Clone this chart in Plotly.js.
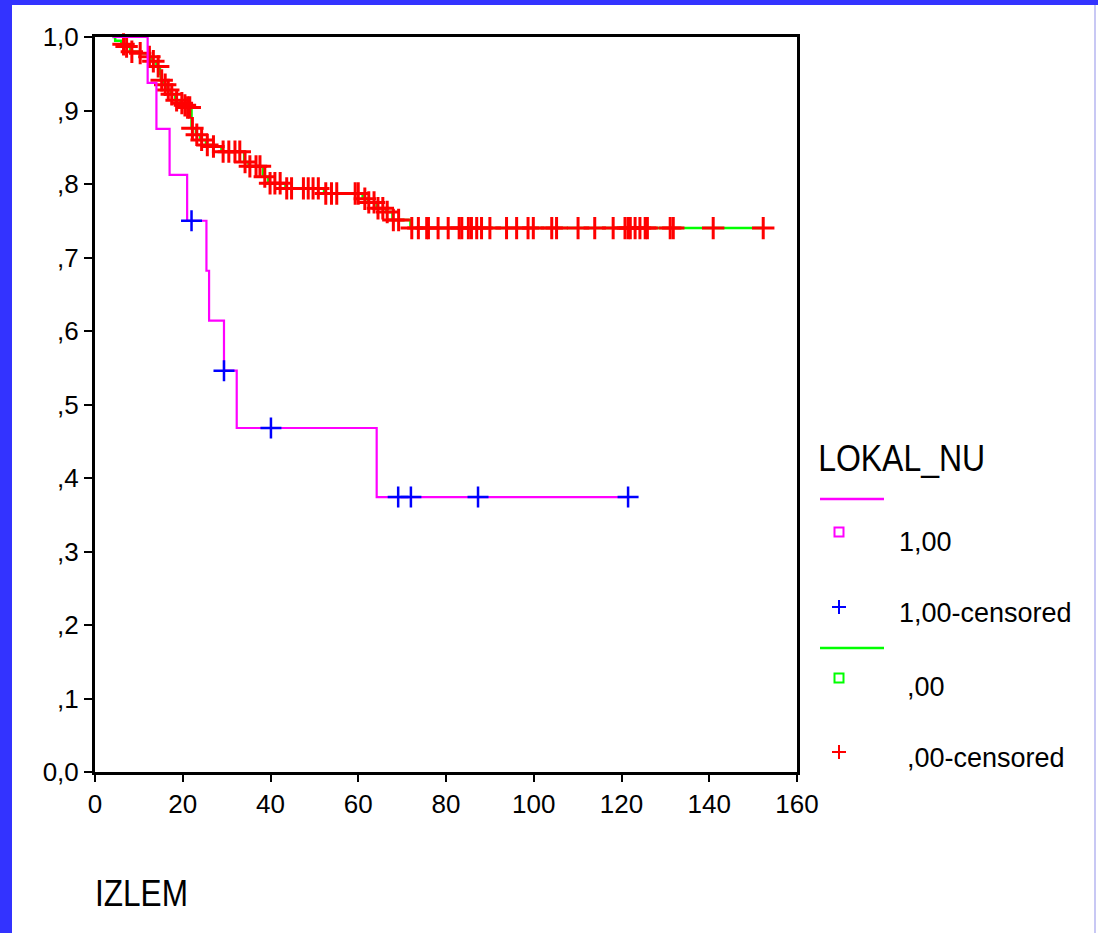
<!DOCTYPE html>
<html>
<head>
<meta charset="utf-8">
<script src="https://cdn.plot.ly/plotly-3.0.1.min.js"></script>
<style>
  html, body { margin: 0; padding: 0; background: #ffffff; }
  #chart { width: 1098px; height: 933px; }
</style>
</head>
<body>
<div id="chart"></div>
<script>
// ---------- DATA ----------
// Group LOKAL_NU = 1,00 : Kaplan-Meier step curve
const g1StepTime = [4.0, 12.0, 14.0, 17.0, 21.0, 25.4, 26.0, 29.4, 32.3, 64.2, 121.5];
const g1StepSurv = [1.0, 0.9375, 0.875, 0.8125, 0.75, 0.682, 0.614, 0.546, 0.468, 0.374, 0.374];
// Group 1,00 censored cases
const g1CensTime = [22.0, 29.4, 40.1, 69.1, 72.0, 87.3, 121.5];
const g1CensSurv = [0.75, 0.546, 0.468, 0.374, 0.374, 0.374, 0.374];

// Group LOKAL_NU = ,00 : Kaplan-Meier step curve
const g0StepTime = [4.0, 4.6, 6.0, 7.0, 8.0, 10.0, 12.0, 13.0, 14.0, 14.8, 15.0, 15.8, 16.5, 17.3, 18.3,
                    19.5, 20.3, 21.0, 22.0, 23.0, 24.0, 25.3, 26.8, 28.8, 34.0, 35.0, 38.3, 39.5, 43.4,
                    52.2, 61.0, 62.2, 64.2, 66.4, 67.8, 71.9, 152.3];
const g0StepSurv = [1.0, 0.995, 0.990, 0.987, 0.980, 0.978, 0.973, 0.967, 0.960, 0.950, 0.941, 0.935, 0.928, 0.922, 0.914,
                    0.910, 0.907, 0.904, 0.876, 0.867, 0.860, 0.853, 0.851, 0.844, 0.830, 0.824, 0.810, 0.801, 0.794,
                    0.787, 0.780, 0.775, 0.767, 0.762, 0.751, 0.740, 0.740];
// Group ,00 censored cases
const g0CensTime = [6.5, 7.2, 8.4, 10.3, 12.4, 13.3, 14.4, 15.2, 16.0, 16.7, 17.5, 18.6, 19.8, 20.5, 21.1, 21.6,
                    22.2, 23.2, 24.3, 25.6, 27.0, 29.2, 30.5, 31.9, 33.0, 34.2, 35.3, 36.7, 37.6, 38.7,
                    39.9, 41.0, 42.2, 43.7, 44.8, 47.5, 48.6, 49.7, 50.9, 52.6, 53.9, 55.1, 59.3, 60.0,
                    61.5, 62.4, 63.6, 64.5, 65.6, 66.6, 68.0, 69.2,
                    72.2, 73.7, 75.6, 76.0, 78.2, 80.5, 83.0, 83.6, 85.1, 85.8, 87.0, 88.1, 90.0, 93.8,
                    96.1, 98.7, 99.9, 104.1, 105.2, 110.1, 113.9, 118.1, 120.8, 121.5, 122.0, 123.1,
                    124.2, 125.4, 125.9, 131.1, 131.8, 140.9, 152.3];
const g0CensSurv = [0.990, 0.987, 0.980, 0.978, 0.973, 0.967, 0.960, 0.941, 0.935, 0.928, 0.922, 0.914, 0.910, 0.907, 0.904, 0.904,
                    0.876, 0.867, 0.860, 0.853, 0.851, 0.844, 0.844, 0.844, 0.844, 0.830, 0.824, 0.824, 0.824, 0.810,
                    0.801, 0.801, 0.801, 0.794, 0.794, 0.794, 0.794, 0.794, 0.794, 0.787, 0.787, 0.787, 0.787, 0.787,
                    0.780, 0.775, 0.775, 0.767, 0.767, 0.762, 0.751, 0.751,
                    0.740, 0.740, 0.740, 0.740, 0.740, 0.740, 0.740, 0.740, 0.740, 0.740, 0.740, 0.740, 0.740, 0.740,
                    0.740, 0.740, 0.740, 0.740, 0.740, 0.740, 0.740, 0.740, 0.740, 0.740, 0.740, 0.740,
                    0.740, 0.740, 0.740, 0.740, 0.740, 0.740, 0.740];

// Axis ticks
const xTickVals = [0, 20, 40, 60, 80, 100, 120, 140, 160];
const yTickVals = [0, 0.1, 0.2, 0.3, 0.4, 0.5, 0.6, 0.7, 0.8, 0.9, 1.0];
const yTickText = ['0,0', ',1', ',2', ',3', ',4', ',5', ',6', ',7', ',8', ',9', '1,0'];

// Labels
const xTitle = 'IZLEM';
const legendTitle = 'LOKAL_NU';
const legendLabels = ['1,00', '1,00-censored', ',00', ',00-censored'];

// ---------- STYLE / LAYOUT ----------
const W = 1098, H = 933;
const L = 95, R = 797, T = 37, B = 772;
const px2x = p => (p - L) / (R - L);
const py2y = p => (B - p) / (B - T);

const MAG = '#ff00ff', GRN = '#00ff00', RED = '#ff0000', BLU = '#0000ff';
const FONT = 'Liberation Sans, Arial, Helvetica, sans-serif';

const traces = [
  { x: g0StepTime, y: g0StepSurv, type: 'scatter', mode: 'lines',
    line: { color: GRN, width: 2.5, shape: 'hv' }, hoverinfo: 'skip', cliponaxis: false },
  { x: g0CensTime, y: g0CensSurv, type: 'scatter', mode: 'markers',
    marker: { symbol: 'cross-thin-open', size: 16, color: RED, line: { color: RED, width: 3 } },
    hoverinfo: 'skip', cliponaxis: false },
  { x: g1StepTime, y: g1StepSurv, type: 'scatter', mode: 'lines',
    line: { color: MAG, width: 2.2, shape: 'hv' }, hoverinfo: 'skip', cliponaxis: false },
  { x: g1CensTime, y: g1CensSurv, type: 'scatter', mode: 'markers',
    marker: { symbol: 'cross-thin-open', size: 15, color: BLU, line: { color: BLU, width: 2.5 } },
    hoverinfo: 'skip', cliponaxis: false }
];

const shapes = [];
// blue frame of the slide (left and top bands)
shapes.push({ type: 'rect', xref: 'paper', yref: 'paper', x0: px2x(0), x1: px2x(12), y0: py2y(H), y1: py2y(0),
  fillcolor: '#3333ff', line: { width: 0 } });
shapes.push({ type: 'rect', xref: 'paper', yref: 'paper', x0: px2x(0), x1: px2x(W), y0: py2y(5), y1: py2y(0),
  fillcolor: '#3333ff', line: { width: 0 } });
// faint right border line
shapes.push({ type: 'line', xref: 'paper', yref: 'paper', x0: px2x(1095), x1: px2x(1095), y0: py2y(H), y1: py2y(5),
  line: { color: '#c8c8f4', width: 2 } });

// legend glyphs
function legLine(py, col) {
  shapes.push({ type: 'line', xref: 'paper', yref: 'paper', x0: px2x(820), x1: px2x(884), y0: py2y(py), y1: py2y(py),
    line: { color: col, width: 2.5 } });
}
function legSquare(px, py, col) {
  shapes.push({ type: 'rect', xref: 'paper', yref: 'paper', x0: px2x(px - 4.5), x1: px2x(px + 4.5),
    y0: py2y(py + 4.5), y1: py2y(py - 4.5), line: { color: col, width: 2 }, fillcolor: 'rgba(0,0,0,0)' });
}
function legCross(px, py, col) {
  shapes.push({ type: 'line', xref: 'paper', yref: 'paper', x0: px2x(px - 7), x1: px2x(px + 7), y0: py2y(py), y1: py2y(py),
    line: { color: col, width: 2 } });
  shapes.push({ type: 'line', xref: 'paper', yref: 'paper', x0: px2x(px), x1: px2x(px), y0: py2y(py - 7), y1: py2y(py + 7),
    line: { color: col, width: 2 } });
}
legLine(499, MAG);
legSquare(839, 532, MAG);
legCross(839, 607, BLU);
legLine(648, GRN);
legSquare(839, 678, GRN);
legCross(839, 752, RED);

// narrow titles: centre x in px and target width in px
const narrowTitles = [
  { text: legendTitle, cx: 901.5, cy: 458, width: 167 },
  { text: xTitle, cx: 141.5, cy: 893, width: 93 }
];

const annotations = [
  { text: legendLabels[0], xref: 'paper', yref: 'paper', x: px2x(897), y: py2y(542), xanchor: 'left', yanchor: 'middle',
    showarrow: false, font: { family: FONT, size: 27, color: '#000' } },
  { text: legendLabels[1], xref: 'paper', yref: 'paper', x: px2x(897), y: py2y(613), xanchor: 'left', yanchor: 'middle',
    showarrow: false, font: { family: FONT, size: 27, color: '#000' } },
  { text: legendLabels[2], xref: 'paper', yref: 'paper', x: px2x(905), y: py2y(687), xanchor: 'left', yanchor: 'middle',
    showarrow: false, font: { family: FONT, size: 27, color: '#000' } },
  { text: legendLabels[3], xref: 'paper', yref: 'paper', x: px2x(905), y: py2y(758), xanchor: 'left', yanchor: 'middle',
    showarrow: false, font: { family: FONT, size: 27, color: '#000' } }
].concat(narrowTitles.map(t => ({
  text: t.text, xref: 'paper', yref: 'paper', x: px2x(t.cx), y: py2y(t.cy), xanchor: 'center', yanchor: 'middle',
  showarrow: false, font: { family: FONT, size: 37, color: '#000' }
})));

const layout = {
  width: W, height: H,
  margin: { l: L, r: W - R, t: T, b: H - B, pad: 0 },
  paper_bgcolor: '#ffffff', plot_bgcolor: '#ffffff',
  showlegend: false,
  xaxis: {
    range: [0, 160], tickvals: xTickVals, ticktext: xTickVals.map(String),
    ticks: 'outside', ticklen: 7, tickwidth: 2, tickcolor: '#000',
    showline: true, linecolor: '#000', linewidth: 3, mirror: true,
    showgrid: false, zeroline: false, fixedrange: true,
    tickfont: { family: FONT, size: 26, color: '#000' }
  },
  yaxis: {
    range: [0, 1], tickvals: yTickVals, ticktext: yTickText,
    ticks: 'outside', ticklen: 8, tickwidth: 2, tickcolor: '#000',
    showline: true, linecolor: '#000', linewidth: 3, mirror: true,
    showgrid: false, zeroline: false, fixedrange: true,
    tickfont: { family: FONT, size: 26, color: '#000' }
  },
  shapes: shapes,
  annotations: annotations
};

Plotly.newPlot('chart', traces, layout, { displayModeBar: false, staticPlot: true }).then(() => {
  // compress the two large titles horizontally, like the condensed font of the original
  const texts = document.querySelectorAll('.annotation-text');
  texts.forEach(el => {
    const t = narrowTitles.find(n => n.text === el.textContent);
    if (t) {
      el.setAttribute('textLength', t.width);
      el.setAttribute('lengthAdjust', 'spacingAndGlyphs');
    }
  });
});
</script>
</body>
</html>
